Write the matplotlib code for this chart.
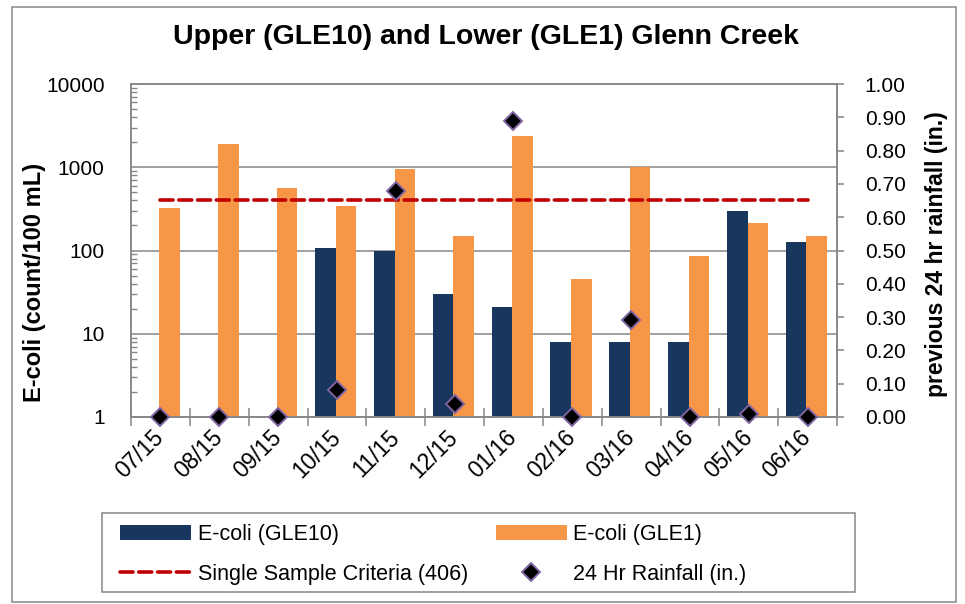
import numpy as np
import matplotlib
matplotlib.use("Agg")
import matplotlib.pyplot as plt
from matplotlib.patches import Rectangle
from matplotlib.ticker import FixedLocator, NullFormatter, LogLocator

months = ["07/15", "08/15", "09/15", "10/15", "11/15", "12/15",
          "01/16", "02/16", "03/16", "04/16", "05/16", "06/16"]
ecoli_gle10 = [np.nan, np.nan, np.nan, 107, 98, 30, 21, 8, 8, 8, 300, 127]
ecoli_gle1 = [320, 1900, 570, 340, 960, 150, 2400, 45, 1000, 86, 213, 150]
rainfall = [0.00, 0.00, 0.00, 0.08, 0.68, 0.04, 0.89, 0.00, 0.29, 0.00, 0.01, 0.00]
criteria = 406

navy = "#17375E"
orange = "#F79646"
red = "#C00000"
purple = "#8064A2"
grey = "#868686"

plt.rcParams.update({
    "font.family": ["Liberation Sans", "DejaVu Sans"],
    "font.size": 15,
})

W, H = 965, 604
fig = plt.figure(figsize=(W / 100, H / 100), dpi=100)
ax = fig.add_axes([131 / W, 1 - 417 / H, (837 - 131) / W, (417 - 84) / H])

x = np.arange(len(months))
bw = 0.35
b1 = ax.bar(x - bw / 2 - 0.02, ecoli_gle10, bw, color=navy, label="E-coli (GLE10)", zorder=2)
b2 = ax.bar(x + bw / 2 - 0.02, ecoli_gle1, bw, color=orange, label="E-coli (GLE1)", zorder=2)
crit, = ax.plot([x[0], x[-1]], [criteria, criteria], color=red, lw=2.6,
                dashes=(3.6, 1.6), dash_capstyle="round", zorder=3,
                label="Single Sample Criteria (406)")

ax.set_yscale("log")
ax.set_ylim(1, 10000)
ax.set_xlim(-0.5, len(months) - 0.5)
ax.set_yticks([1, 10, 100, 1000, 10000])
ax.set_yticklabels(["1", "10", "100", "1000", "10000"])
ax.yaxis.set_minor_locator(LogLocator(base=10, subs=np.arange(2, 10)))
ax.yaxis.set_minor_formatter(NullFormatter())
ax.tick_params(axis="y", which="major", length=0, pad=19, labelsize=15)
ax.tick_params(axis="y", which="minor", direction="in", length=4, width=1, color=grey)
ax.grid(axis="y", which="major", color=grey, lw=1.1)
ax.set_axisbelow(True)

ax.set_xticks(x)
ax.set_xticklabels(months, rotation=45, ha="right", va="center", rotation_mode="anchor")
ax.xaxis.set_minor_locator(FixedLocator(np.arange(-0.5, len(months), 1.0)))
ax.tick_params(axis="x", which="major", length=0, pad=12, labelsize=16.5)
ax.tick_params(axis="x", which="minor", direction="inout", length=13, width=1.1, color=grey)

for s in ax.spines.values():
    s.set_color(grey)
    s.set_linewidth(1.1)

ax2 = ax.twinx()
rain, = ax2.plot(x, rainfall, ls="none", marker="D", ms=9, mfc="black",
                 mec=purple, mew=1.4, clip_on=False, zorder=5,
                 label="24 Hr Rainfall (in.)")
ax2.set_ylim(0, 1.0)
ax2.set_yticks(np.arange(0, 1.01, 0.1))
ax2.set_yticklabels([f"{v:.2f}" for v in np.arange(0, 1.01, 0.1)])
ax2.tick_params(axis="y", direction="out", length=5, width=1.1, color=grey, pad=15, labelsize=15)
for s in ax2.spines.values():
    s.set_color(grey)
    s.set_linewidth(1.1)

fig.text(486 / W, 1 - 37 / H, "Upper (GLE10) and Lower (GLE1) Glenn Creek",
         ha="center", va="center", fontsize=20.5, fontweight="bold")
fig.text(35 / W, 1 - 282 / H, "E-coli (count/100 mL)", rotation=90,
         ha="center", va="center", fontsize=17, fontweight="bold")
fig.text(936 / W, 1 - 254 / H, "previous 24 hr rainfall (in.)", rotation=90,
         ha="center", va="center", fontsize=16.5, fontweight="bold")

# legend without its own frame; the box is drawn separately
leg = fig.legend([b1, crit, b2, rain],
                 ["E-coli (GLE10)", "Single Sample Criteria (406)",
                  "E-coli (GLE1)", "24 Hr Rainfall (in.)"],
                 ncol=2, loc="upper left",
                 bbox_to_anchor=(120 / W, 1 - 524 / H),
                 borderaxespad=0, borderpad=0, fontsize=15.5, handlelength=3.3,
                 handletextpad=0.3, labelspacing=0.88, columnspacing=1.3,
                 numpoints=1, frameon=False)

fig.patches.append(Rectangle((102 / W, 1 - 592 / H), (855 - 102) / W, (592 - 513) / H,
                             transform=fig.transFigure, fill=False,
                             edgecolor=grey, lw=1.1))
fig.patches.append(Rectangle((12 / W, 2 / H), (956 - 12) / W, (602 - 7) / H,
                             transform=fig.transFigure, fill=False,
                             edgecolor=grey, lw=1.1))

fig.savefig("out.png", dpi=100)
